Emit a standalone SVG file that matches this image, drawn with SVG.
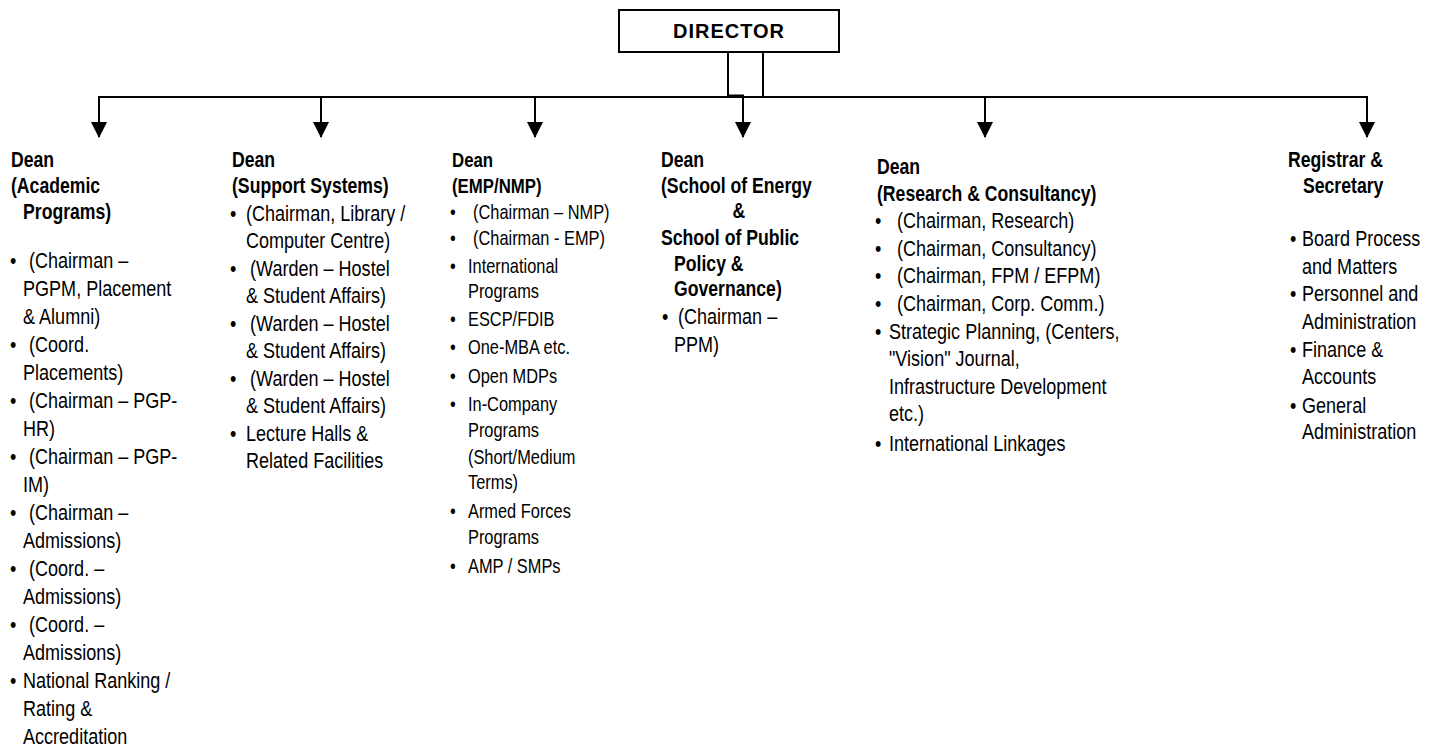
<svg xmlns="http://www.w3.org/2000/svg" width="1442" height="750" viewBox="0 0 1442 750">
<style>
text{font-family:'Liberation Sans',Arial,sans-serif;fill:#000}
.h{font-weight:bold;font-size:21.5px}
.t{font-size:22px}
.s{font-size:20px}
.hs{font-weight:bold;font-size:20.5px}
.dir{font-weight:bold;font-size:20px;letter-spacing:1px}
.ln{fill:none;stroke:#000;stroke-width:2}
</style>
<defs>
<marker id="ah" markerUnits="userSpaceOnUse" markerWidth="16" markerHeight="16" refX="15" refY="8" orient="auto" viewBox="0 0 16 16">
<path d="M0,0 L16,8 L0,16 Z" fill="#000"/>
</marker>
</defs>
<rect width="1442" height="750" fill="#fff"/>
<g id="director">
<rect x="619" y="10" width="220" height="42" fill="#fff" stroke="#000" stroke-width="2"/>
<text class="dir" x="729" y="38" text-anchor="middle">DIRECTOR</text>
</g>
<g id="connectors">
<path class="ln" d="M99,97 H1367"/>
<path class="ln" d="M763,52 V97"/>
<path class="ln" d="M728,52 V97"/>
<path class="ln" d="M727,95.5 H744" stroke-width="3"/>
<path class="ln" d="M743,96 V137" marker-end="url(#ah)"/>
<path class="ln" d="M99,96 V137" marker-end="url(#ah)"/>
<path class="ln" d="M321,96 V137" marker-end="url(#ah)"/>
<path class="ln" d="M535,96 V137" marker-end="url(#ah)"/>
<path class="ln" d="M985,96 V137" marker-end="url(#ah)"/>
<path class="ln" d="M1367,96 V137" marker-end="url(#ah)"/>
</g>
<g id="dean-academic" transform="translate(10 0) scale(0.82 1)">
<text class="h" x="1.2" y="167">Dean</text>
<text class="h" x="1.2" y="193">(Academic</text>
<text class="h" x="15.9" y="219">Programs)</text>
<g class="t">
<text x="0" y="268">•</text><text x="23.2" y="268">(Chairman –</text>
<text x="15.9" y="296">PGPM, Placement</text>
<text x="15.9" y="324">&amp; Alumni)</text>
<text x="0" y="352">•</text><text x="23.2" y="352">(Coord.</text>
<text x="15.9" y="380">Placements)</text>
<text x="0" y="408">•</text><text x="23.2" y="408">(Chairman – PGP-</text>
<text x="15.9" y="436">HR)</text>
<text x="0" y="464">•</text><text x="23.2" y="464">(Chairman – PGP-</text>
<text x="15.9" y="492">IM)</text>
<text x="0" y="520">•</text><text x="23.2" y="520">(Chairman –</text>
<text x="15.9" y="548">Admissions)</text>
<text x="0" y="576">•</text><text x="23.2" y="576">(Coord. –</text>
<text x="15.9" y="604">Admissions)</text>
<text x="0" y="632">•</text><text x="23.2" y="632">(Coord. –</text>
<text x="15.9" y="660">Admissions)</text>
<text x="0" y="688">•</text><text x="15.9" y="688">National Ranking /</text>
<text x="15.9" y="716">Rating &amp;</text>
<text x="15.9" y="744">Accreditation</text>
</g>
</g>
<g id="dean-support" transform="translate(232 0) scale(0.82 1)">
<text class="h" x="0" y="167">Dean</text>
<text class="h" x="0" y="193">(Support Systems)</text>
<g class="t">
<text x="-2.4" y="221">•</text><text x="17.1" y="221">(Chairman, Library /</text>
<text x="17.1" y="248.5">Computer Centre)</text>
<text x="-2.4" y="276">•</text><text x="22" y="276">(Warden – Hostel</text>
<text x="17.1" y="303.5">&amp; Student Affairs)</text>
<text x="-2.4" y="331">•</text><text x="22" y="331">(Warden – Hostel</text>
<text x="17.1" y="358.5">&amp; Student Affairs)</text>
<text x="-2.4" y="386">•</text><text x="22" y="386">(Warden – Hostel</text>
<text x="17.1" y="413.5">&amp; Student Affairs)</text>
<text x="-2.4" y="441">•</text><text x="17.1" y="441">Lecture Halls &amp;</text>
<text x="17.1" y="468.5">Related Facilities</text>
</g>
</g>
<g id="dean-emp" transform="translate(452 0) scale(0.82 1)">
<text class="hs" x="0" y="167">Dean</text>
<text class="hs" x="0" y="193">(EMP/NMP)</text>
<g class="s">
<text x="-2.4" y="219">•</text><text x="25.6" y="219">(Chairman – NMP)</text>
<text x="-2.4" y="245">•</text><text x="25.6" y="245">(Chairman - EMP)</text>
<text x="-2.4" y="273">•</text><text x="19.5" y="273">International</text>
<text x="19.5" y="298">Programs</text>
<text x="-2.4" y="326">•</text><text x="19.5" y="326">ESCP/FDIB</text>
<text x="-2.4" y="354">•</text><text x="19.5" y="354">One-MBA etc.</text>
<text x="-2.4" y="383">•</text><text x="19.5" y="383">Open MDPs</text>
<text x="-2.4" y="411">•</text><text x="19.5" y="411">In-Company</text>
<text x="19.5" y="437">Programs</text>
<text x="19.5" y="464">(Short/Medium</text>
<text x="19.5" y="489">Terms)</text>
<text x="-2.4" y="518">•</text><text x="19.5" y="518">Armed Forces</text>
<text x="19.5" y="544">Programs</text>
<text x="-2.4" y="573">•</text><text x="19.5" y="573">AMP / SMPs</text>
</g>
</g>
<g id="dean-energy" transform="translate(661 0) scale(0.82 1)">
<text class="h" x="0" y="167">Dean</text>
<text class="h" x="0" y="193">(School of Energy</text>
<text class="h" x="95.1" y="218" text-anchor="middle">&amp;</text>
<text class="h" x="0" y="245">School of Public</text>
<text class="h" x="15.9" y="271">Policy &amp;</text>
<text class="h" x="15.9" y="296">Governance)</text>
<g class="t">
<text x="1.2" y="324">•</text><text x="20.7" y="324">(Chairman –</text>
<text x="15.9" y="352">PPM)</text>
</g>
</g>
<g id="dean-research" transform="translate(877 0) scale(0.82 1)">
<text class="h" x="0" y="174">Dean</text>
<text class="h" x="0" y="201">(Research &amp; Consultancy)</text>
<g class="t">
<text x="-2.4" y="228">•</text><text x="24.4" y="228">(Chairman, Research)</text>
<text x="-2.4" y="256">•</text><text x="24.4" y="256">(Chairman, Consultancy)</text>
<text x="-2.4" y="283">•</text><text x="24.4" y="283">(Chairman, FPM / EFPM)</text>
<text x="-2.4" y="311">•</text><text x="24.4" y="311">(Chairman, Corp. Comm.)</text>
<text x="-2.4" y="339">•</text><text x="14.6" y="339">Strategic Planning, (Centers,</text>
<text x="14.6" y="366">"Vision" Journal,</text>
<text x="14.6" y="394">Infrastructure Development</text>
<text x="14.6" y="421">etc.)</text>
<text x="-2.4" y="451">•</text><text x="14.6" y="451">International Linkages</text>
</g>
</g>
<g id="registrar" transform="translate(1288 0) scale(0.82 1)">
<text class="h" x="0" y="167">Registrar &amp;</text>
<text class="h" x="18.3" y="193">Secretary</text>
<g class="t">
<text x="2.4" y="246">•</text><text x="17.1" y="246">Board Process</text>
<text x="17.1" y="274">and Matters</text>
<text x="2.4" y="301">•</text><text x="17.1" y="301">Personnel and</text>
<text x="17.1" y="329">Administration</text>
<text x="2.4" y="357">•</text><text x="17.1" y="357">Finance &amp;</text>
<text x="17.1" y="384">Accounts</text>
<text x="2.4" y="413">•</text><text x="17.1" y="413">General</text>
<text x="17.1" y="439">Administration</text>
</g>
</g>
</svg>
